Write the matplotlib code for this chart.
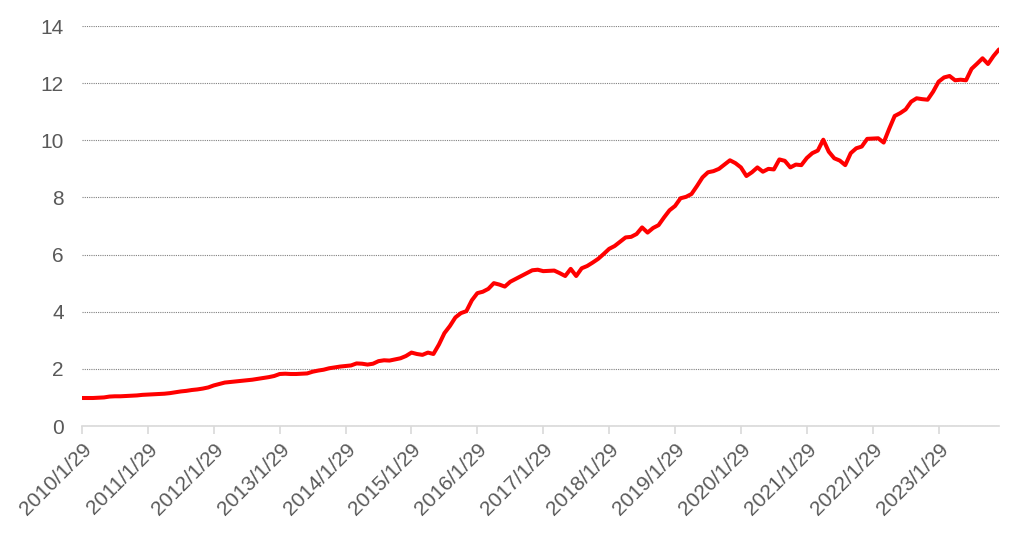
import matplotlib
matplotlib.use("Agg")
import matplotlib.pyplot as plt
import numpy as np

plt.rcParams["font.family"] = ["Liberation Sans", "DejaVu Sans"]

# monthly values, 2010/1 .. 2023/12
v2010 = [0.98, 0.98, 0.98, 0.99, 1.00, 1.03, 1.04, 1.04, 1.05, 1.06, 1.07, 1.09]
v2011 = [1.10, 1.11, 1.12, 1.13, 1.15, 1.18, 1.21, 1.23, 1.26, 1.28, 1.31, 1.35]
v2012 = [1.42, 1.47, 1.52, 1.54, 1.56, 1.58, 1.60, 1.62, 1.65, 1.68, 1.71, 1.75]
v2013 = [1.82, 1.83, 1.82, 1.82, 1.83, 1.84, 1.90, 1.94, 1.97, 2.02, 2.05, 2.08]
v2014 = [2.10, 2.12, 2.19, 2.18, 2.15, 2.18, 2.27, 2.30, 2.29, 2.33, 2.37, 2.45]
v2015 = [2.57, 2.52, 2.49, 2.57, 2.52, 2.85, 3.25, 3.50, 3.80, 3.95, 4.02, 4.40]
v2016 = [4.65, 4.70, 4.80, 5.00, 4.95, 4.88, 5.05, 5.15, 5.25, 5.35, 5.45, 5.47]
v2017 = [5.42, 5.43, 5.44, 5.35, 5.25, 5.50, 5.25, 5.52, 5.60, 5.72, 5.85, 6.02]
v2018 = [6.20, 6.30, 6.45, 6.60, 6.62, 6.72, 6.95, 6.77, 6.93, 7.03, 7.30, 7.55]
v2019 = [7.70, 7.97, 8.02, 8.12, 8.40, 8.70, 8.88, 8.92, 9.00, 9.15, 9.30, 9.20]
v2020 = [9.05, 8.75, 8.88, 9.05, 8.90, 9.00, 8.98, 9.33, 9.28, 9.05, 9.15, 9.13]
v2021 = [9.38, 9.55, 9.64, 10.02, 9.60, 9.37, 9.29, 9.13, 9.55, 9.72, 9.78, 10.05]
v2022 = [10.06, 10.07, 9.92, 10.40, 10.85, 10.95, 11.08, 11.35, 11.47, 11.44, 11.42, 11.70]
v2023 = [12.05, 12.20, 12.25, 12.10, 12.12, 12.10, 12.50, 12.68, 12.87, 12.67, 12.95, 13.18]

values = (v2010 + v2011 + v2012 + v2013 + v2014 + v2015 + v2016 +
          v2017 + v2018 + v2019 + v2020 + v2021 + v2022 + v2023)

tickLabels = ["2010/1/29", "2011/1/29", "2012/1/29", "2013/1/29", "2014/1/29",
              "2015/1/29", "2016/1/29", "2017/1/29", "2018/1/29", "2019/1/29",
              "2020/1/29", "2021/1/29", "2022/1/29", "2023/1/29"]

x = np.arange(len(values))

fig = plt.figure(figsize=(10.11, 5.43), dpi=100)
ax = fig.add_axes([82 / 1011, 1 - 426 / 543, (999 - 82) / 1011, 400 / 543])

ax.plot(x, values, color="#ff0000", linewidth=2.9, solid_joinstyle="round",
        solid_capstyle="round", zorder=3)

ax.set_xlim(0, len(values) - 1)
ax.set_ylim(0, 14)
ax.set_yticks(range(0, 15, 2))
ax.set_xticks(range(0, len(values), 12))
ax.set_xticklabels(tickLabels, rotation=45, ha="right", rotation_mode="anchor")

ax.grid(axis="y", color="#808080", linestyle=(0, (1, 1)), linewidth=0.8)
ax.set_axisbelow(True)

for side in ["left", "right", "top"]:
    ax.spines[side].set_visible(False)
ax.spines["bottom"].set_color("#d9d9d9")
ax.spines["bottom"].set_linewidth(1.2)

ax.tick_params(axis="y", length=0, pad=13, labelsize=15, labelcolor="#595959")
ax.tick_params(axis="x", length=6, width=1.2, color="#d9d9d9", pad=4,
               labelsize=15, labelcolor="#595959")

plt.savefig("out.png", dpi=100)
